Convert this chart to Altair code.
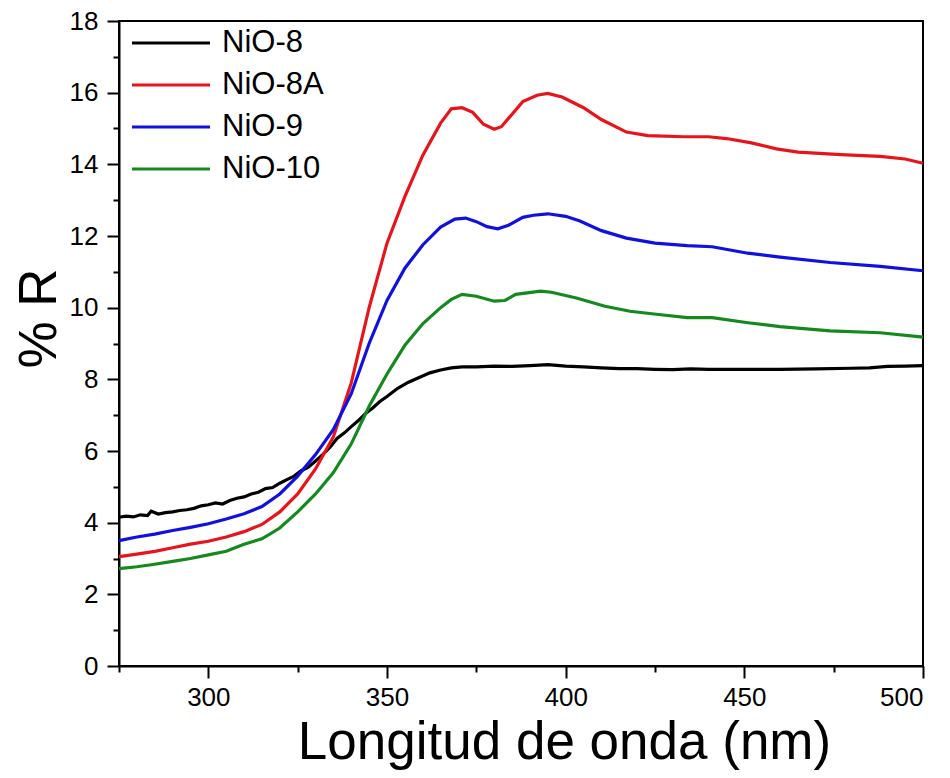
import altair as alt
import pandas as pd

series = ["NiO-8", "NiO-8A", "NiO-9", "NiO-10"]
colors = ["#000000", "#e8141c", "#1010e0", "#148a1e"]

wl_8 = [275, 277, 279, 281, 283, 284, 286, 288, 290, 292, 294, 296, 298, 300, 302, 304, 306, 308, 310,
        312, 314, 316, 318, 320, 322, 324, 326, 328, 330, 332, 334, 336, 338, 340, 342, 344, 346, 348,
        350, 353, 356, 359, 362, 365, 368, 371, 375, 380, 385, 390, 395, 400, 405, 410, 415, 420, 425,
        430, 435, 440, 450, 460, 470, 480, 485, 490, 495, 500]
r_8 = [4.15, 4.18, 4.16, 4.22, 4.20, 4.32, 4.24, 4.28, 4.30, 4.34, 4.36, 4.40, 4.47, 4.50, 4.55, 4.52,
       4.62, 4.68, 4.72, 4.80, 4.85, 4.95, 4.98, 5.10, 5.20, 5.30, 5.45, 5.55, 5.72, 5.90, 6.10, 6.35,
       6.50, 6.68, 6.85, 7.05, 7.20, 7.38, 7.52, 7.75, 7.92, 8.05, 8.18, 8.26, 8.32, 8.35, 8.35, 8.37,
       8.36, 8.38, 8.41, 8.37, 8.35, 8.32, 8.30, 8.30, 8.28, 8.27, 8.29, 8.28, 8.28, 8.28, 8.29, 8.31,
       8.32, 8.36, 8.37, 8.38]

wl_8a = [275, 280, 285, 290, 295, 300, 305, 310, 315, 320, 325, 330, 335, 340, 345, 350, 355, 360, 365,
         368, 371, 374, 377, 380, 382, 385, 388, 392, 395, 399, 405, 410, 417, 423, 433, 440, 445, 452,
         459, 465, 477, 488, 495, 500]
r_8a = [3.05, 3.12, 3.20, 3.30, 3.40, 3.48, 3.60, 3.75, 3.95, 4.30, 4.80, 5.50, 6.40, 7.90, 10.0, 11.8,
        13.1, 14.25, 15.15, 15.55, 15.58, 15.45, 15.12, 14.98, 15.05, 15.40, 15.75, 15.93, 15.98, 15.88,
        15.58, 15.25, 14.90, 14.80, 14.77, 14.77, 14.72, 14.60, 14.43, 14.34, 14.27, 14.22, 14.15, 14.03]

wl_9 = [275, 280, 285, 290, 295, 300, 305, 310, 315, 320, 325, 330, 335, 340, 345, 350, 355, 360, 365,
        369, 372, 375, 378, 381, 384, 388, 391, 395, 400, 404, 410, 417, 425, 434, 441, 451, 460, 474,
        488, 500]
r_9 = [3.50, 3.60, 3.68, 3.78, 3.87, 3.97, 4.10, 4.25, 4.45, 4.80, 5.30, 5.90, 6.60, 7.60, 9.00, 10.2,
       11.1, 11.75, 12.25, 12.47, 12.50, 12.40, 12.26, 12.20, 12.30, 12.52, 12.58, 12.62, 12.55, 12.42,
       12.15, 11.94, 11.80, 11.73, 11.70, 11.52, 11.41, 11.26, 11.15, 11.03]

wl_10 = [275, 280, 285, 290, 295, 300, 305, 310, 315, 320, 325, 330, 335, 340, 345, 350, 355, 360, 365,
         368, 371, 375, 380, 383, 386, 393, 396, 403, 411, 418, 426, 434, 441, 451, 460, 474, 488, 500]
r_10 = [2.72, 2.77, 2.84, 2.92, 3.00, 3.10, 3.20, 3.40, 3.55, 3.85, 4.30, 4.80, 5.40, 6.20, 7.25, 8.15,
        8.95, 9.55, 10.0, 10.23, 10.37, 10.32, 10.18, 10.20, 10.37, 10.46, 10.43, 10.27, 10.04, 9.90,
        9.81, 9.72, 9.72, 9.58, 9.47, 9.35, 9.30, 9.18]

x_ticks = [275, 300, 325, 350, 375, 400, 425, 450, 475, 500]
y_ticks = list(range(0, 19))

rows = []
for name, wl, r in zip(series, [wl_8, wl_8a, wl_9, wl_10], [r_8, r_8a, r_9, r_10]):
    for x, y in zip(wl, r):
        rows.append({"Muestra": name, "wl": x, "R": y})
df = pd.DataFrame(rows)

FONT = "Liberation Sans"

chart = alt.Chart(df).mark_line(strokeWidth=3.2).encode(
    x=alt.X(
        "wl:Q",
        scale=alt.Scale(domain=[275, 500], nice=False, zero=False),
        axis=alt.Axis(
            values=x_ticks,
            title="Longitud de onda (nm)",
            labelExpr="datum.value % 50 === 0 ? datum.label : ''",
            tickSize={"condition": {"test": "datum.value % 50 === 0", "value": 12}, "value": 6},
            titleX=445, titleY=92, titleAnchor="middle", titleBaseline="alphabetic",
            titleFontSize=53, labelPadding=6, labelFontSize=26,
        ),
    ),
    y=alt.Y(
        "R:Q",
        scale=alt.Scale(domain=[0, 18], nice=False),
        axis=alt.Axis(
            values=y_ticks,
            title="% R",
            labelExpr="datum.value % 2 === 0 ? datum.label : ''",
            tickSize={"condition": {"test": "datum.value % 2 === 0", "value": 12}, "value": 6},
            titleX=-64, titleY=297, titleAngle=270, titleBaseline="alphabetic",
            titleFontSize=53, labelPadding=9, labelFontSize=26,
        ),
    ),
    color=alt.Color(
        "Muestra:N",
        scale=alt.Scale(domain=series, range=colors),
        legend=alt.Legend(
            title=None, orient="none", legendX=11, legendY=6,
            symbolType="stroke", symbolSize=6084, symbolStrokeWidth=3.2,
            labelFontSize=31, labelFont=FONT, labelOffset=10, rowPadding=10, padding=0,
            clipHeight=32,
        ),
    ),
).properties(
    width=804, height=645,
    autosize=alt.AutoSizeParams(type="none"),
    padding={"left": 111, "top": 13, "right": 10, "bottom": 104},
).configure_view(
    stroke="#000000", strokeWidth=2,
).configure_axis(
    domainColor="#000000", domainWidth=2, tickColor="#000000", tickWidth=2,
    labelFont=FONT, titleFont=FONT, labelColor="#000000", titleColor="#000000",
    titleFontWeight="normal", grid=False,
)

chart.save("out.html", embed_options={"renderer": "svg", "actions": False})
